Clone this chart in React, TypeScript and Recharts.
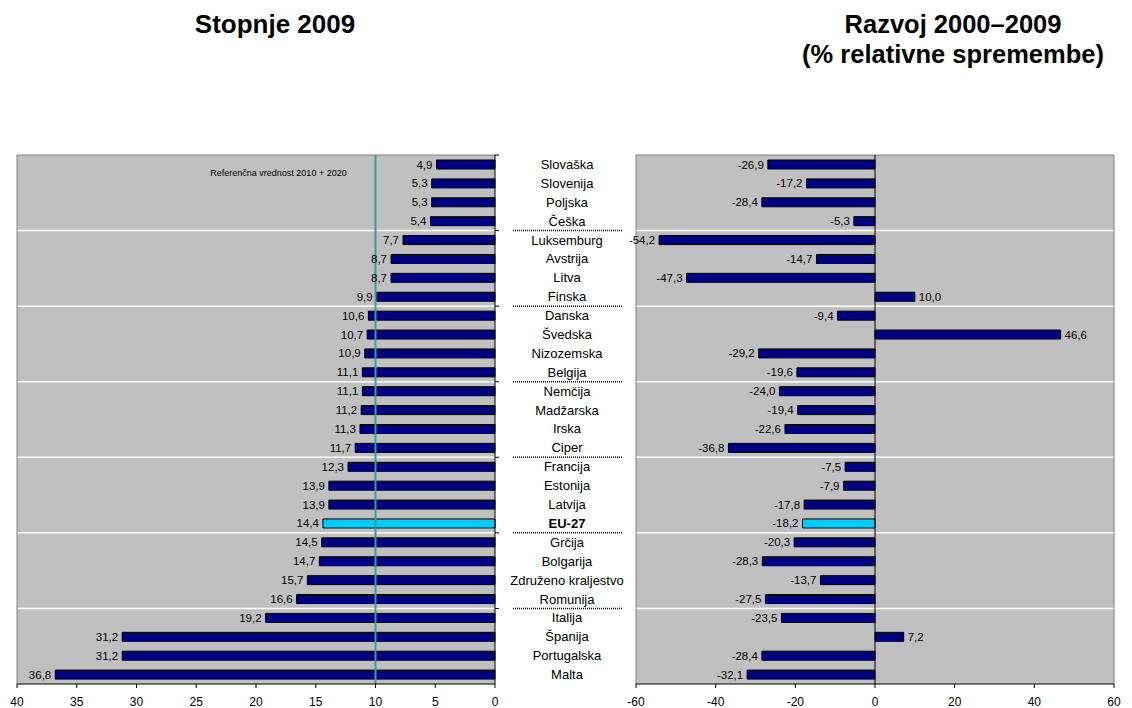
import React from 'react';
import { BarChart, Bar, XAxis, YAxis, ReferenceLine, CartesianGrid, LabelList, Cell } from 'recharts';

const countries = [
  'Slovaška', 'Slovenija', 'Poljska', 'Češka',
  'Luksemburg', 'Avstrija', 'Litva', 'Finska',
  'Danska', 'Švedska', 'Nizozemska', 'Belgija',
  'Nemčija', 'Madžarska', 'Irska', 'Ciper',
  'Francija', 'Estonija', 'Latvija', 'EU-27',
  'Grčija', 'Bolgarija', 'Združeno kraljestvo', 'Romunija',
  'Italija', 'Španija', 'Portugalska', 'Malta',
];
const rates2009 = [
  4.9, 5.3, 5.3, 5.4,
  7.7, 8.7, 8.7, 9.9,
  10.6, 10.7, 10.9, 11.1,
  11.1, 11.2, 11.3, 11.7,
  12.3, 13.9, 13.9, 14.4,
  14.5, 14.7, 15.7, 16.6,
  19.2, 31.2, 31.2, 36.8,
];
const change2000to2009 = [
  -26.9, -17.2, -28.4, -5.3,
  -54.2, -14.7, -47.3, 10.0,
  -9.4, 46.6, -29.2, -19.6,
  -24.0, -19.4, -22.6, -36.8,
  -7.5, -7.9, -17.8, -18.2,
  -20.3, -28.3, -13.7, -27.5,
  -23.5, 7.2, -28.4, -32.1,
];
const leftTicks = [0, 5, 10, 15, 20, 25, 30, 35, 40];
const rightTicks = [-60, -40, -20, 0, 20, 40, 60];
const groupSize = 4;
const referenceValue = 10;
const highlight = 'EU-27';

const titleLeft = 'Stopnje 2009';
const titleRight1 = 'Razvoj 2000–2009';
const titleRight2 = '(% relativne spremembe)';
const refLabel = 'Referenčna vrednost  2010 + 2020';

const FONT = '"Liberation Sans", Arial, Helvetica, sans-serif';
const CHART_H = 708;
const TOP = 155;
const XAXIS_H = 24;
const ROW = (CHART_H - TOP - XAXIS_H) / countries.length;
const NAVY = '#000080';
const CYAN = '#00CCFF';

const leftData = countries.map((name, i) => ({ name, v: rates2009[i] }));
const rightData = countries.map((name, i) => ({ name, v: change2000to2009[i] }));

// indices of the last category in each group (except the final one)
const groupEnds = countries
  .map((_, i) => i)
  .filter((i) => i % groupSize === groupSize - 1 && i < countries.length - 1);

const fmt = (v: number) => v.toFixed(1).replace('.', ',');

const gridGen = (args: any) => {
  const sc = args?.yAxis?.scale;
  if (sc && typeof sc === 'function' && typeof sc.bandwidth === 'function') {
    const pts = groupEnds.map((i) => sc(countries[i]) + sc.bandwidth());
    if (pts.every((p) => Number.isFinite(p))) return pts;
  }
  const off = args.offset;
  return groupEnds.map((i) => off.top + ((i + 1) * off.height) / countries.length);
};

const CategoryTick = (props: any) => {
  const { x, y, payload, index } = props;
  const name = payload.value;
  const half = ROW / 2;
  const isEnd = groupEnds.includes(index);
  return (
    <g>
      {index === 0 && <line x1={x} x2={x + 4} y1={y - half} y2={y - half} stroke="#000" />}
      {isEnd && <line x1={x} x2={x + 4} y1={y + half} y2={y + half} stroke="#000" />}
      {isEnd && (
        <line x1={x + 18} x2={x + 128} y1={y + half} y2={y + half} stroke="#000" strokeWidth={1.5} strokeDasharray="1 1" />
      )}
      <text
        x={x + 72}
        y={y}
        dy="0.35em"
        textAnchor="middle"
        fontSize={13}
        fontFamily={FONT}
        fontWeight={name === highlight ? 'bold' : 'normal'}
        fill="#000"
      >
        {name}
      </text>
    </g>
  );
};

const LeftLabel = (p: any) => {
  const { x, y, width, height, value } = p;
  const left = Math.min(x, x + width);
  return (
    <text x={left - 4} y={y + height / 2} dy="0.35em" textAnchor="end" fontSize={11.5} fontFamily={FONT} fill="#000">
      {fmt(Number(value))}
    </text>
  );
};

const RightLabel = (p: any) => {
  const { x, y, width, height, value } = p;
  const left = Math.min(x, x + width);
  const right = Math.max(x, x + width);
  const v = Number(value);
  return (
    <text
      x={v < 0 ? left - 4 : right + 4}
      y={y + height / 2}
      dy="0.35em"
      textAnchor={v < 0 ? 'end' : 'start'}
      fontSize={11.5}
      fontFamily={FONT}
      fill="#000"
    >
      {fmt(v)}
    </text>
  );
};

const RefLabel = (p: any) => {
  const vb = p.viewBox || {};
  const vx = vb.x ?? vb.x1 ?? 0;
  const vy = vb.y ?? Math.min(vb.y1 ?? 0, vb.y2 ?? 0);
  return (
    <text x={vx - 97} y={vy + 21} textAnchor="middle" fontSize={9} fontFamily={FONT} fill="#000">
      {refLabel}
    </text>
  );
};

const axisTick = { fontSize: 12, fill: '#000', fontFamily: FONT };

export default function App() {
  return (
    <div style={{ position: 'absolute', left: 0, top: 0, width: 1132, height: 708, background: '#fff', fontFamily: FONT }}>
      <div style={{ position: 'absolute', left: 125, width: 300, top: 9, textAlign: 'center', fontWeight: 'bold', fontSize: 26, lineHeight: '30px' }}>
        {titleLeft}
      </div>
      <div style={{ position: 'absolute', left: 753, width: 400, top: 9, textAlign: 'center', fontWeight: 'bold', fontSize: 25.5, lineHeight: '30px' }}>
        <div>{titleRight1}</div>
        <div>{titleRight2}</div>
      </div>

      <div style={{ position: 'absolute', left: 0, top: 0 }}>
        <BarChart
          layout="vertical"
          width={625}
          height={CHART_H}
          data={leftData}
          margin={{ top: TOP, right: 0, bottom: 0, left: 17 }}
        >
          <CartesianGrid
            yAxisId="cat"
            vertical={false}
            horizontal
            stroke="#ffffff"
            strokeWidth={1.5}
            fill="#c0c0c0"
            fillOpacity={1}
            horizontalCoordinatesGenerator={gridGen}
          />
          <XAxis
            type="number"
            dataKey="v"
            domain={[0, 40]}
            reversed
            ticks={leftTicks}
            interval={0}
            height={XAXIS_H}
            tickSize={4}
            tickMargin={9}
            axisLine={{ stroke: '#000' }}
            tickLine={{ stroke: '#000' }}
            tick={axisTick}
          />
          <YAxis
            yAxisId="cat"
            type="category"
            dataKey="name"
            orientation="right"
            width={130}
            tickSize={0}
            tickMargin={0}
            interval={0}
            axisLine={{ stroke: '#000' }}
            tickLine={false}
            tick={CategoryTick}
          />
          <ReferenceLine yAxisId="cat" y={countries[0]} position="start" stroke="#808080" />
          <ReferenceLine yAxisId="cat" x={40} stroke="#808080" />
          <Bar yAxisId="cat" dataKey="v" barSize={9} fill={NAVY} stroke="#000" strokeWidth={1} isAnimationActive={false}>
            {leftData.map((d) => (
              <Cell key={d.name} fill={d.name === highlight ? CYAN : NAVY} />
            ))}
            <LabelList dataKey="v" content={LeftLabel} />
          </Bar>
          <ReferenceLine
            yAxisId="cat"
            x={referenceValue}
            stroke="#3a9c9c"
            strokeWidth={2}
            label={<RefLabel />}
          />
        </BarChart>
      </div>

      <div style={{ position: 'absolute', left: 625, top: 0 }}>
        <BarChart
          layout="vertical"
          width={507}
          height={CHART_H}
          data={rightData}
          margin={{ top: TOP, right: 18, bottom: 0, left: 11 }}
        >
          <CartesianGrid
            yAxisId="cat"
            vertical={false}
            horizontal
            stroke="#ffffff"
            strokeWidth={1.5}
            fill="#c0c0c0"
            fillOpacity={1}
            horizontalCoordinatesGenerator={gridGen}
          />
          <XAxis
            type="number"
            dataKey="v"
            domain={[-60, 60]}
            ticks={rightTicks}
            interval={0}
            height={XAXIS_H}
            tickSize={4}
            tickMargin={9}
            axisLine={{ stroke: '#000' }}
            tickLine={{ stroke: '#000' }}
            tick={axisTick}
          />
          <YAxis yAxisId="cat" type="category" dataKey="name" hide />
          <ReferenceLine yAxisId="cat" y={countries[0]} position="start" stroke="#808080" />
          <ReferenceLine yAxisId="cat" x={-60} stroke="#808080" />
          <ReferenceLine yAxisId="cat" x={60} stroke="#808080" />
          <Bar yAxisId="cat" dataKey="v" barSize={9} fill={NAVY} stroke="#000" strokeWidth={1} isAnimationActive={false}>
            {rightData.map((d) => (
              <Cell key={d.name} fill={d.name === highlight ? CYAN : NAVY} />
            ))}
            <LabelList dataKey="v" content={RightLabel} />
          </Bar>
          <ReferenceLine yAxisId="cat" x={0} stroke="#000" strokeWidth={1} />
        </BarChart>
      </div>
    </div>
  );
}
